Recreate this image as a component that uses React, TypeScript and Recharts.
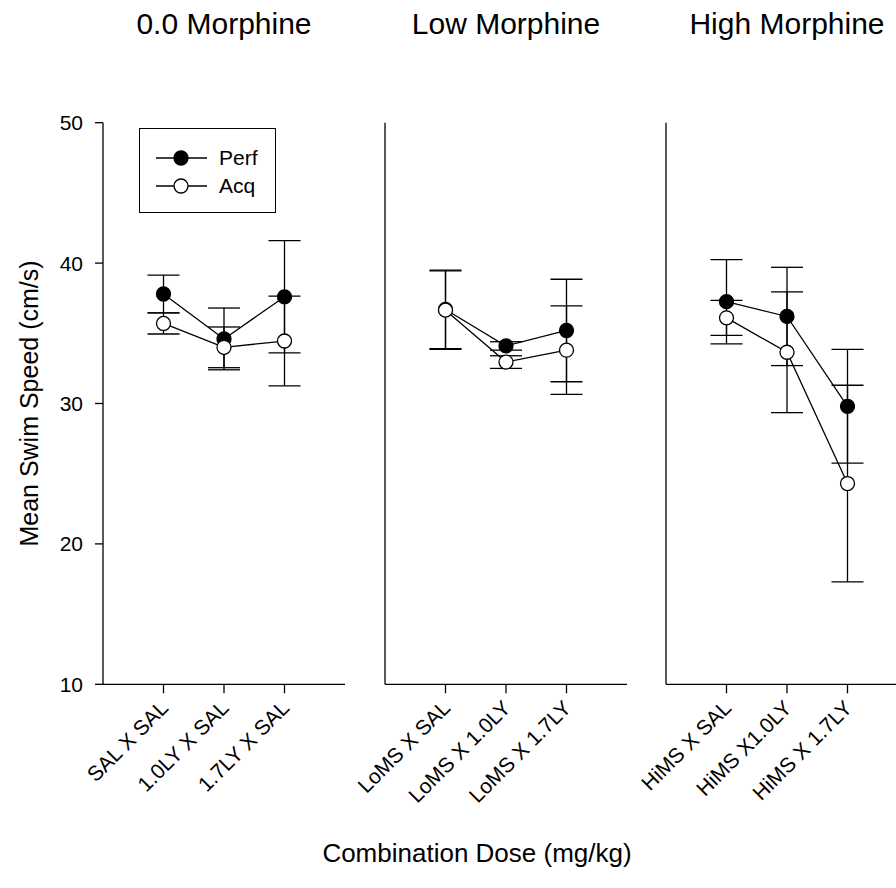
import React from 'react';
import { LineChart, Line, XAxis, YAxis, ErrorBar, Legend } from 'recharts';

// tick labels per panel
const noMorphineDoses = ['SAL X SAL', '1.0LY X SAL', '1.7LY X SAL'];
const lowMorphineDoses = ['LoMS X SAL', 'LoMS X 1.0LY', 'LoMS X 1.7LY'];
const highMorphineDoses = ['HiMS X SAL', 'HiMS X1.0LY', 'HiMS X 1.7LY'];

const panelTitles = ['0.0 Morphine', 'Low Morphine', 'High Morphine'];
const yTicks = [10, 20, 30, 40, 50];

// mean swim speed (cm/s) and error
const perfNone = [37.8, 34.6, 37.6];
const perfNoneErr = [1.35, 2.2, 4.0];
const acqNone = [35.7, 34.0, 34.45];
const acqNoneErr = [0.75, 1.45, 3.2];

const perfLow = [36.7, 34.1, 35.2];
const perfLowErr = [2.8, 0.3, 3.65];
const acqLow = [36.65, 32.95, 33.8];
const acqLowErr = [2.8, 0.45, 3.15];

const perfHigh = [37.25, 36.2, 29.8];
const perfHighErr = [3.0, 3.5, 4.05];
const acqHigh = [36.1, 33.65, 24.3];
const acqHighErr = [1.25, 4.3, 7.0];

const FONT = '"Liberation Sans", Arial, Helvetica, sans-serif';

function buildRows(labels: string[], perf: number[], perfErr: number[], acq: number[], acqErr: number[]) {
  return labels.map((label, i) => ({
    x: i + 1,
    label,
    perf: perf[i],
    perfErr: perfErr[i],
    acq: acq[i],
    acqErr: acqErr[i],
  }));
}

const panels = [
  { axisX: 103, labels: noMorphineDoses, rows: buildRows(noMorphineDoses, perfNone, perfNoneErr, acqNone, acqNoneErr), showY: true, legend: true },
  { axisX: 385, labels: lowMorphineDoses, rows: buildRows(lowMorphineDoses, perfLow, perfLowErr, acqLow, acqLowErr), showY: false, legend: false },
  { axisX: 666, labels: highMorphineDoses, rows: buildRows(highMorphineDoses, perfHigh, perfHighErr, acqHigh, acqHighErr), showY: false, legend: false },
];

function RotatedTick(props: any) {
  const { x, y, payload, labels } = props;
  const text = labels[payload.value - 1] ?? '';
  return (
    <g transform={`translate(${x + 6},${y + 14}) rotate(-45)`}>
      <text x={0} y={0} textAnchor="end" fontSize={21} fontFamily={FONT} fill="#000">
        {text}
      </text>
    </g>
  );
}

function LegendBox() {
  const items = [
    { name: 'Perf', fill: '#000' },
    { name: 'Acq', fill: '#fff' },
  ];
  return (
    <div style={{ width: 135, height: 83, border: '1px solid #000', background: '#fff', position: 'relative' }}>
      {items.map((it, i) => (
        <div key={it.name} style={{ position: 'absolute', left: 0, top: 14 + i * 28, height: 30, display: 'flex', alignItems: 'center' }}>
          <svg width={80} height={30}>
            <line x1={16} y1={15} x2={67} y2={15} stroke="#000" strokeWidth={1.3} />
            <circle cx={41} cy={15} r={7} fill={it.fill} stroke="#000" strokeWidth={1.3} />
          </svg>
          <span style={{ fontFamily: FONT, fontSize: 21, marginLeft: -1, lineHeight: '30px' }}>{it.name}</span>
        </div>
      ))}
    </div>
  );
}

export default function App() {
  return (
    <div style={{ position: 'absolute', left: 0, top: 0, width: 896, height: 888, overflow: 'hidden', background: '#fff' }}>
      {panels.map((p, idx) => (
        <div key={idx} style={{ position: 'absolute', left: p.axisX - 80, top: 0 }}>
          <LineChart width={342} height={888} data={p.rows} margin={{ top: 122.7, right: 20, bottom: 83.7, left: 0 }}>
            <XAxis
              dataKey="x"
              type="number"
              domain={[0, 4]}
              ticks={[1, 2, 3]}
              interval={0}
              height={120}
              tickSize={9}
              axisLine={{ stroke: '#000', strokeWidth: 1.3 }}
              tickLine={{ stroke: '#000', strokeWidth: 1.3 }}
              tick={(tp: any) => <RotatedTick {...tp} labels={p.labels} />}
            />
            <YAxis
              type="number"
              domain={[10, 50]}
              ticks={yTicks}
              interval={0}
              width={80}
              tickSize={8}
              tickMargin={12}
              axisLine={{ stroke: '#000', strokeWidth: 1.3 }}
              tickLine={{ stroke: '#000', strokeWidth: 1.3 }}
              tick={p.showY ? { fill: '#000', fontSize: 21, fontFamily: FONT } : false}
            />
            {p.legend && (
              <Legend
                layout="vertical"
                align="center"
                verticalAlign="middle"
                content={() => <LegendBox />}
                wrapperStyle={{ left: 116, top: 128, width: 137, height: 85 }}
              />
            )}
            <Line
              type="linear"
              dataKey="perf"
              name="Perf"
              stroke="#000"
              strokeWidth={1.3}
              dot={{ r: 7, fill: '#000', stroke: '#000', strokeWidth: 1.3 }}
              activeDot={false}
              isAnimationActive={false}
            >
              <ErrorBar dataKey="perfErr" direction="y" width={16} stroke="#000" strokeWidth={1.3} />
            </Line>
            <Line
              type="linear"
              dataKey="acq"
              name="Acq"
              stroke="#000"
              strokeWidth={1.3}
              dot={{ r: 7, fill: '#fff', stroke: '#000', strokeWidth: 1.3 }}
              activeDot={false}
              isAnimationActive={false}
            >
              <ErrorBar dataKey="acqErr" direction="y" width={16} stroke="#000" strokeWidth={1.3} />
            </Line>
          </LineChart>
        </div>
      ))}
      <svg width={896} height={888} style={{ position: 'absolute', left: 0, top: 0, pointerEvents: 'none' }}>
        {panelTitles.map((t, i) => (
          <text key={t} x={panels[i].axisX + 121} y={34} textAnchor="middle" fontSize={30} fontFamily={FONT} fill="#000">
            {t}
          </text>
        ))}
        <text
          transform="translate(38,403.5) rotate(-90)"
          textAnchor="middle"
          fontSize={25}
          fontFamily={FONT}
          fill="#000"
        >
          Mean Swim Speed (cm/s)
        </text>
        <text x={477} y={862} textAnchor="middle" fontSize={26} fontFamily={FONT} fill="#000">
          Combination Dose (mg/kg)
        </text>
      </svg>
    </div>
  );
}
